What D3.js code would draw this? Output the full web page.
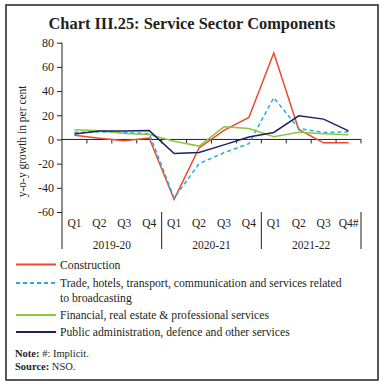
<!DOCTYPE html>
<html>
<head>
<meta charset="utf-8">
<script src="https://cdn.jsdelivr.net/npm/d3@7"></script>
<style>
  body { margin: 0; background: #fff; }
  svg { display: block; font-family: "Liberation Serif", "DejaVu Serif", serif; }
</style>
</head>
<body>
<div id="chart"></div>
<script>
// Quarterly y-o-y growth (per cent)
const quarters = ["Q1", "Q2", "Q3", "Q4", "Q1", "Q2", "Q3", "Q4", "Q1", "Q2", "Q3", "Q4#"];
const years = ["2019-20", "2020-21", "2021-22"];
const yTicks = [-60, -40, -20, 0, 20, 40, 60, 80];

const construction = [3.5, 1.0, -1.0, 1.2, -49.5, -7.0, 7.5, 18.2, 71.5, 8.3, -2.8, -2.8];
const trade        = [5.8, 6.3, 5.8, 4.8, -48.5, -20.0, -11.0, -3.5, 34.5, 9.1, 5.8, 6.3];
const financial    = [8.0, 7.2, 5.0, 4.0, -1.5, -5.5, 10.4, 9.0, 2.2, 6.0, 4.7, 3.8];
const publicAdmin  = [4.6, 6.9, 6.9, 7.3, -11.6, -10.8, -4.5, 2.0, 5.8, 19.5, 16.8, 7.1];

const series = [
  { name: ["Construction"], values: construction, color: "#ec4a2c", dash: null },
  { name: ["Trade, hotels, transport, communication and services related", "to broadcasting"], values: trade, color: "#2aaae2", dash: "4,3" },
  { name: ["Financial, real estate & professional services"], values: financial, color: "#8dc63f", dash: null },
  { name: ["Public administration, defence and other services"], values: publicAdmin, color: "#1c2163", dash: null }
];

const width = 386, height = 388;
const svg = d3.select("#chart").append("svg")
  .attr("width", width)
  .attr("height", height);

// outer frame
svg.append("rect")
  .attr("x", 6).attr("y", 5)
  .attr("width", 372).attr("height", 375)
  .attr("fill", "none")
  .attr("stroke", "#231f20")
  .attr("stroke-width", 1.5);

svg.append("text")
  .attr("x", 192).attr("y", 29)
  .attr("text-anchor", "middle")
  .attr("font-weight", "bold")
  .attr("font-size", 16)
  .attr("fill", "#231f20")
  .attr("textLength", 287)
  .attr("lengthAdjust", "spacingAndGlyphs")
  .text("Chart III.25: Service Sector Components");

const plot = { left: 62, right: 361, top: 42.7, bottom: 212 };
const keys = quarters.map((q, i) => i);

const x = d3.scaleBand()
  .domain(keys)
  .range([plot.left, plot.right]);

const y = d3.scaleLinear()
  .domain([-60, 80])
  .range([plot.bottom, plot.top]);

// y axis (plain hyphen for negatives, as in the source)
const yAxis = svg.append("g")
  .attr("transform", `translate(${plot.left},0)`)
  .call(d3.axisLeft(y).tickValues(yTicks).tickSize(5).tickPadding(3).tickSizeOuter(0)
    .tickFormat(d => String(d)));
yAxis.select(".domain").remove();
yAxis.selectAll("line").attr("stroke", "#231f20");
yAxis.selectAll("text")
  .attr("font-family", "Liberation Serif, serif")
  .attr("font-size", 12)
  .attr("fill", "#231f20");

// axis line running down through the category labels
svg.append("line")
  .attr("x1", plot.left).attr("x2", plot.left)
  .attr("y1", plot.top).attr("y2", 249)
  .attr("stroke", "#231f20");

svg.append("text")
  .attr("transform", `translate(26,${(plot.top + plot.bottom) / 2 + 14}) rotate(-90)`)
  .attr("text-anchor", "middle")
  .attr("font-size", 11.5)
  .attr("fill", "#231f20")
  .text("y-o-y growth in per cent");

// zero line with ticks at band edges
const zeroAxis = svg.append("g")
  .attr("transform", `translate(0,${y(0)})`)
  .call(d3.axisBottom(x).tickSize(0).tickFormat(""));
zeroAxis.select(".domain")
  .attr("d", `M${plot.left},0H${plot.right}`)
  .attr("stroke", "#231f20");
svg.append("g")
  .selectAll("line")
  .data(keys.slice(1).concat([keys.length]))
  .join("line")
    .attr("x1", d => plot.left + d * x.bandwidth())
    .attr("x2", d => plot.left + d * x.bandwidth())
    .attr("y1", y(0))
    .attr("y2", y(0) + 4)
    .attr("stroke", "#231f20");

// quarter labels
svg.append("g")
  .selectAll("text")
  .data(keys)
  .join("text")
    .attr("x", d => x(d) + x.bandwidth() / 2)
    .attr("y", 227)
    .attr("text-anchor", "middle")
    .attr("font-size", 11.5)
    .attr("fill", "#231f20")
    .text(d => quarters[d]);

// year groups
const groupW = x.bandwidth() * 4;
svg.append("g")
  .selectAll("line")
  .data(years)
  .join("line")
    .attr("x1", (d, i) => plot.left + (i + 1) * groupW)
    .attr("x2", (d, i) => plot.left + (i + 1) * groupW)
    .attr("y1", plot.bottom)
    .attr("y2", 249)
    .attr("stroke", "#231f20");
svg.append("g")
  .selectAll("text")
  .data(years)
  .join("text")
    .attr("x", (d, i) => plot.left + (i + 0.5) * groupW)
    .attr("y", 249)
    .attr("text-anchor", "middle")
    .attr("font-size", 11.5)
    .attr("fill", "#231f20")
    .text(d => d);

// series lines
const line = d3.line()
  .x((d, i) => x(i) + x.bandwidth() / 2)
  .y(d => y(d));

svg.append("g")
  .selectAll("path")
  .data(series)
  .join("path")
    .attr("d", d => line(d.values))
    .attr("fill", "none")
    .attr("stroke", d => d.color)
    .attr("stroke-width", 1.5)
    .attr("stroke-dasharray", d => d.dash);

// legend
const legendY = [264.5, 283, 315, 332];
const legend = svg.append("g")
  .selectAll("g")
  .data(series)
  .join("g")
    .attr("transform", (d, i) => `translate(16,${legendY[i]})`);
legend.append("line")
  .attr("x1", 0).attr("x2", 40)
  .attr("stroke", d => d.color)
  .attr("stroke-width", 1.8)
  .attr("stroke-dasharray", d => d.dash);
legend.append("text")
  .attr("font-size", 11.7)
  .attr("fill", "#231f20")
  .selectAll("tspan")
  .data(d => d.name)
  .join("tspan")
    .attr("x", 44)
    .attr("y", (d, i) => 4 + i * 14.6)
    .text(d => d);

// notes
const notes = [["Note:", " #: Implicit."], ["Source:", " NSO."]];
svg.append("g")
  .selectAll("text")
  .data(notes)
  .join("text")
    .attr("x", 15)
    .attr("y", (d, i) => 357 + i * 12.8)
    .attr("font-size", 10.5)
    .attr("fill", "#231f20")
    .each(function(d) {
      const t = d3.select(this);
      t.append("tspan").attr("font-weight", "bold").text(d[0]);
      t.append("tspan").text(d[1]);
    });
</script>
</body>
</html>
